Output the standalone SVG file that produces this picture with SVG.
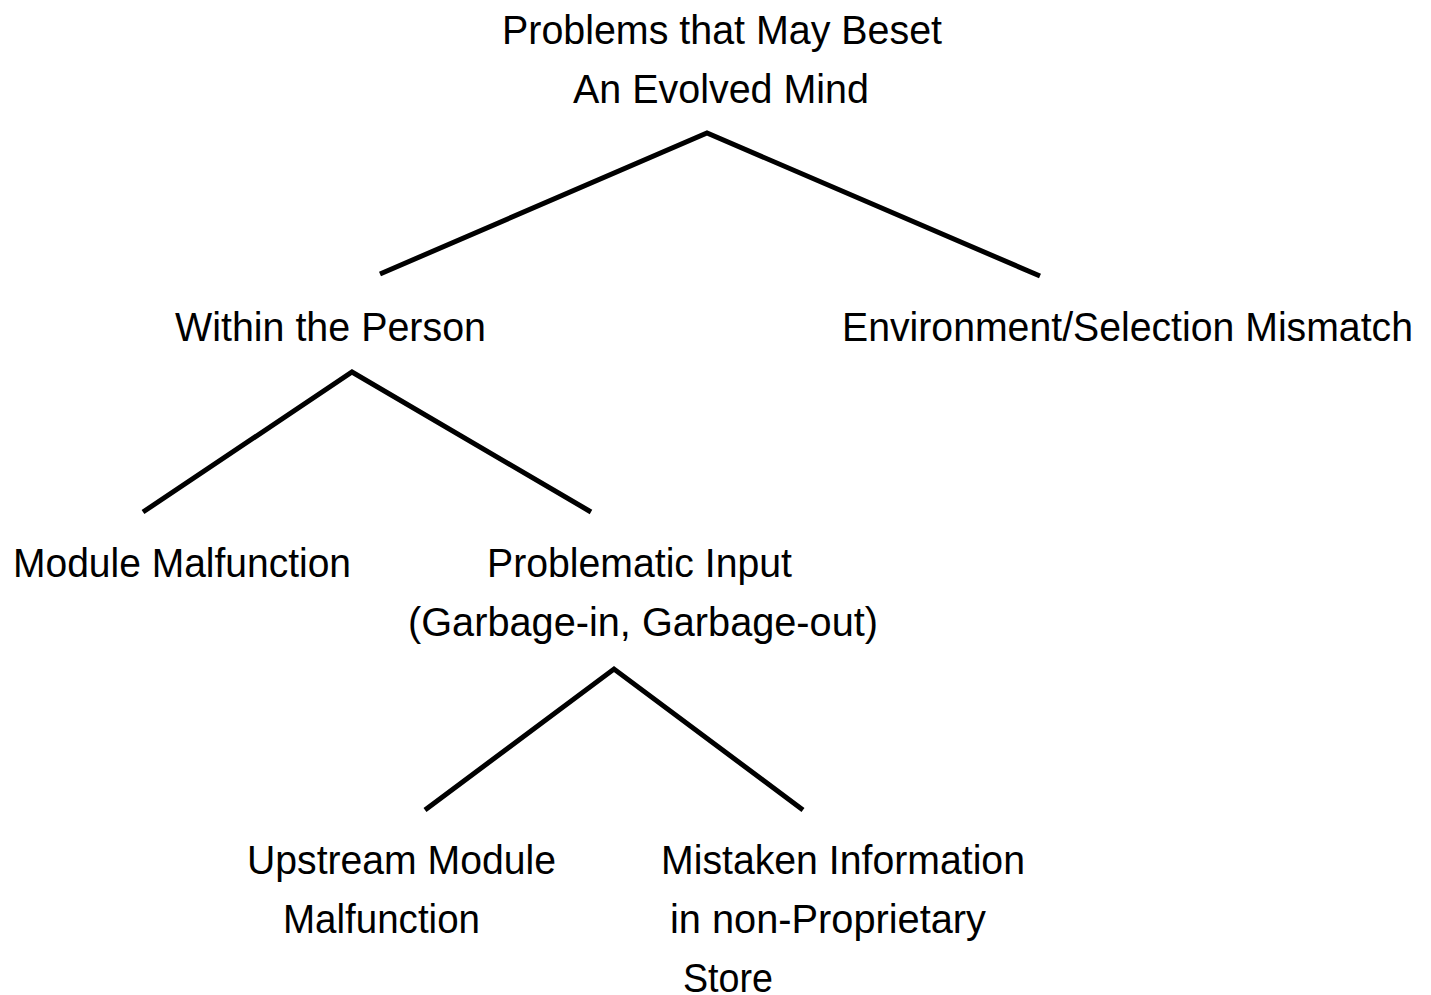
<svg xmlns="http://www.w3.org/2000/svg" width="1431" height="995" viewBox="0 0 1431 995">
<style>
text{font-family:"Liberation Sans",Arial,sans-serif;font-size:41px;fill:#000}
.c{fill:none;stroke:#000;stroke-width:5;stroke-linejoin:miter}
</style>
<rect width="1431" height="995" fill="#fff"/>
<g id="connectors">
<polyline class="c" points="380,274 707,133 1040,276"/>
<polyline class="c" points="143,512 352,372 591,512"/>
<polyline class="c" points="425,810 614,669 803,810"/>
</g>
<g id="root">
<text x="502" y="44" textLength="440" lengthAdjust="spacingAndGlyphs">Problems that May Beset</text>
<text x="573" y="103" textLength="296" lengthAdjust="spacingAndGlyphs">An Evolved Mind</text>
</g>
<g id="within">
<text x="175" y="341" textLength="311" lengthAdjust="spacingAndGlyphs">Within the Person</text>
</g>
<g id="environment">
<text x="842" y="341" textLength="571" lengthAdjust="spacingAndGlyphs">Environment/Selection Mismatch</text>
</g>
<g id="module">
<text x="13" y="577" textLength="338" lengthAdjust="spacingAndGlyphs">Module Malfunction</text>
</g>
<g id="problematic">
<text x="487" y="577" textLength="305" lengthAdjust="spacingAndGlyphs">Problematic Input</text>
<text x="408" y="636" textLength="470" lengthAdjust="spacingAndGlyphs">(Garbage-in, Garbage-out)</text>
</g>
<g id="upstream">
<text x="247" y="874" textLength="309" lengthAdjust="spacingAndGlyphs">Upstream Module</text>
<text x="283" y="933" textLength="197" lengthAdjust="spacingAndGlyphs">Malfunction</text>
</g>
<g id="mistaken">
<text x="661" y="874" textLength="364" lengthAdjust="spacingAndGlyphs">Mistaken Information</text>
<text x="670" y="933" textLength="316" lengthAdjust="spacingAndGlyphs">in non-Proprietary</text>
<text x="683" y="992" textLength="90" lengthAdjust="spacingAndGlyphs">Store</text>
</g>
</svg>
